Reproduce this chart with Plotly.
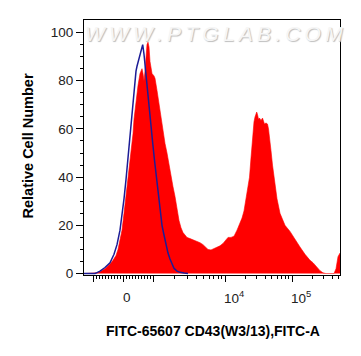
import math
import plotly.graph_objects as go

# ---- data (x = display channel on the biexponential axis, 0..256) ----
red_channel = [0, 10, 13, 16, 21, 26, 29, 32, 34, 36, 38, 40, 42, 44, 46, 47, 49, 50, 52, 54,
               56, 58, 59, 60, 61, 62, 63, 64, 65, 66, 67, 68, 70, 71, 73, 75, 77, 79, 81, 83,
               85, 87, 89, 91, 93, 95, 97, 99, 101, 103, 106, 109, 112, 116, 119, 122, 124, 127,
               130, 133, 136, 139, 142, 144, 147, 150, 153, 156, 158, 160, 162, 164, 165.5, 167,
               168.5, 170, 171, 172, 172.7, 173.5, 174.5, 175.5, 177, 178.5, 179.5, 180.5, 182,
               183.5, 184.5, 185.5, 187, 188.5, 190, 191.5, 193, 196, 201, 206, 211, 216, 221,
               226, 229, 233, 236, 239, 242, 250, 252, 254, 256]
red_count = [0, 0, 0.3, 0.8, 2, 4, 5.5, 7.5, 10, 14, 18, 25, 32, 39, 45, 50, 58, 64, 72, 78,
             83, 85, 83, 80, 84, 92, 95, 96, 94, 88, 84, 83, 82, 81, 76, 70, 64, 58, 54, 50,
             45, 40, 36, 32, 27, 22, 19, 17, 16, 15, 14.5, 14, 13.5, 12.8, 12, 10.8, 10, 9.8,
             10.3, 11, 11.5, 12.5, 14, 15, 15, 15.5, 18, 21, 23, 26, 31, 36, 40, 48,
             57, 63, 65, 66, 67, 66, 64, 64.5, 63.5, 64.5, 63, 62, 62.5,
             62, 60, 57, 51, 45, 40, 36, 31, 25, 20, 17.5, 14, 11, 8,
             5.5, 4.5, 2.5, 1.2, 0.3, 0, 0, 2, 7, 8.5]

blue_channel = [0, 11, 13, 16, 21, 26, 30, 33, 36, 38, 40, 42, 44, 46, 48, 50, 52, 53, 55, 57,
                58.7, 60, 62, 64, 66, 68.5, 70.5, 72.7, 74, 76, 78, 80, 82, 84, 86, 88, 90,
                93, 96, 100, 104]
blue_count = [0, 0, 0.4, 1, 2.5, 4.5, 8, 12, 18, 24, 31, 39, 48, 58, 67, 76, 84, 86, 89, 92.5,
              95, 91, 82, 73, 63, 55, 47, 39, 32, 25, 20, 16, 12, 8.5, 6, 3.8, 2.2,
              1, 0.5, 0.2, 0]

y_major = [0, 20, 40, 60, 80, 100]
y_minor = [5, 10, 15, 25, 30, 35, 45, 50, 55, 65, 70, 75, 85, 90, 95]

x_major_values = [-1000, 0, 1000, 1e4, 1e5]
x_minor_values = ([-100 * k for k in range(1, 10)] + [100 * k for k in range(1, 10)]
                  + [1000 * k for k in range(2, 10)] + [1e4 * k for k in range(2, 10)]
                  + [1e5 * k for k in range(2, 6)])
x_label_values = [0, 1e4, 1e5]
x_label_texts = ["0", "10<sup>4</sup>", "10<sup>5</sup>"]


def display(v):
    """Approximate biexponential display transform -> channel (0..256)."""
    if abs(v) <= 1000:
        px = 123 + 0.03 * v
    elif v > 1e4:
        px = 225 + 67 * math.log10(v / 1e4)
    elif v > 0:
        px = 153 + 72 * math.log10(v / 1000)
    else:
        px = 93 - 72 * math.log10(-v / 1000)
    return px - 84


fig = go.Figure()
fig.add_trace(go.Scatter(x=red_channel, y=red_count, mode="lines", fill="tozeroy",
                         fillcolor="#ff0000", line=dict(color="#ff0000", width=0.6),
                         hoverinfo="skip"))
fig.add_trace(go.Scatter(x=blue_channel, y=blue_count, mode="lines",
                         line=dict(color="#1c1c96", width=1.5), hoverinfo="skip"))

label_font = dict(family="Liberation Sans, Arial, sans-serif", size=13.5, color="#222222")
title_font = dict(family="Liberation Sans, Arial, sans-serif", size=14, color="#000000")

fig.update_layout(
    width=361, height=356,
    margin=dict(l=84, r=21, t=20, b=81),
    paper_bgcolor="white", plot_bgcolor="white",
    showlegend=False,
    xaxis=dict(range=[0, 256], showgrid=False, zeroline=False, showline=True,
               linecolor="black", linewidth=1, mirror=True,
               tickmode="array", tickvals=[display(v) for v in x_major_values],
               ticks="outside", ticklen=6, tickcolor="black", tickwidth=1,
               showticklabels=False,
               minor=dict(tickmode="array", tickvals=[display(v) for v in x_minor_values],
                          ticks="outside", ticklen=3, tickcolor="black", tickwidth=1)),
    yaxis=dict(range=[-0.6, 105.2], showgrid=False, zeroline=False, showline=True,
               linecolor="black", linewidth=1, mirror=True,
               tickmode="array", tickvals=y_major, ticktext=[str(v) for v in y_major],
               ticks="outside", ticklen=7, tickcolor="black", tickwidth=1,
               tickfont=label_font,
               minor=dict(tickmode="array", tickvals=y_minor, ticks="outside",
                          ticklen=3.5, tickcolor="black", tickwidth=1)),
)

# x tick labels (drawn slightly right of the tick, as in the reference)
for v, t in zip(x_label_values, x_label_texts):
    fig.add_annotation(x=display(v) + (4 if v == 0 else 9), y=(275 - 297) / 255,
                       xref="x", yref="paper", yanchor="middle", text=t,
                       showarrow=False, font=label_font, xanchor="center")

# axis titles
fig.add_annotation(xref="paper", yref="paper", x=(213 - 84) / 256, y=(275 - 331) / 255,
                   text="<b>FITC-65607 CD43(W3/13),FITC-A</b>", showarrow=False,
                   font=title_font, xanchor="center", yanchor="middle")
fig.add_annotation(xref="paper", yref="paper", x=(27 - 84) / 256, y=(275 - 146.5) / 255,
                   text="<b>Relative Cell Number</b>", showarrow=False, textangle=-90,
                   font=dict(family="Liberation Sans, Arial, sans-serif", size=14.5,
                             color="#000000"),
                   xanchor="center", yanchor="middle")

# watermark
wm = "\u2009".join("WWW.PTGLAB.COM")
fig.add_annotation(xref="paper", yref="paper", x=(213.5 - 84) / 256, y=(275 - 33) / 255,
                   text=wm, showarrow=False, xanchor="center", yanchor="middle",
                   font=dict(family="Liberation Sans, Arial, sans-serif", size=21,
                             color="#f6f6f6", style="italic",
                             shadow="1px 1px 1px #bdbdbd"))

fig.write_html("out.html", config={"displayModeBar": False},
               post_script="document.body.style.margin='0';document.body.style.padding='0';")
